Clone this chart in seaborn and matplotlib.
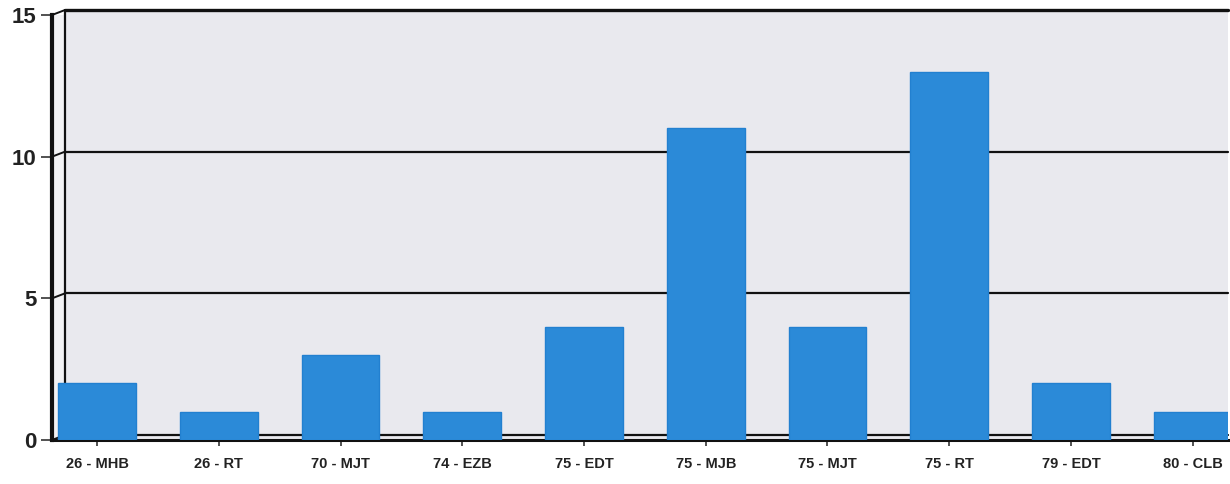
import matplotlib
matplotlib.use("Agg")
import matplotlib.pyplot as plt
import matplotlib.transforms as mtransforms
from matplotlib.patches import Rectangle
import seaborn as sns
import pandas as pd

categories = ["26 - MHB", "26 - RT", "70 - MJT", "74 - EZB", "75 - EDT",
              "75 - MJB", "75 - MJT", "75 - RT", "79 - EDT", "80 - CLB"]
counts = [2, 1, 3, 1, 4, 11, 4, 13, 2, 1]
y_ticks = [0, 5, 10, 15]

df = pd.DataFrame({"category": categories, "count": counts})

sns.set_theme(style="white")
plt.rcParams["font.family"] = ["Liberation Sans", "DejaVu Sans"]

bg = "#e9e9ee"
fig = plt.figure(figsize=(12.3, 4.84), dpi=100)
ax = fig.add_axes([52 / 1230, 1 - 440 / 484, (1228 - 52) / 1230, (440 - 15) / 484])
ax.set_facecolor(bg)

sns.barplot(data=df, x="category", y="count", color="#2b8ad8", saturation=1,
            width=0.64, ax=ax, zorder=3)
for p in ax.patches:
    p.set_edgecolor("#2280d0")
    p.set_linewidth(1.0)

ax.set_xlim(-0.37, 9.29)
ax.set_ylim(0, 15)
ax.set_yticks(y_ticks)
ax.set_yticklabels([str(t) for t in y_ticks], fontsize=16, color="#222222")
ax.set_xlabel("")
ax.set_ylabel("")
ax.tick_params(axis="x", labelsize=10.5, colors="#222222", length=4, width=1.2,
               bottom=True, pad=8, color="#333333")
ax.tick_params(axis="y", length=8, width=1.2, left=True, color="#333333", pad=3)
for lbl in ax.get_xticklabels() + ax.get_yticklabels():
    lbl.set_fontweight("bold")

ax.grid(False)

# Back wall: gridlines sit slightly up and right of the front axis
wall_dx = 13 / 1176
wall_dy = 5 / 425
dy_data = wall_dy * 15
ax.add_patch(Rectangle((wall_dx, 1.0), 1 - wall_dx, wall_dy, transform=ax.transAxes,
                       facecolor=bg, edgecolor="none", zorder=0.4, clip_on=False))
blend = mtransforms.blended_transform_factory(ax.transAxes, ax.transData)
for t in y_ticks:
    lw = 2.4 if t == y_ticks[-1] else 1.6
    ax.plot([wall_dx, 1.0], [t + dy_data, t + dy_data], transform=blend,
            color="#111111", lw=lw, zorder=1, clip_on=False)
    ax.plot([0, wall_dx], [t, t + dy_data], transform=blend,
            color="#111111", lw=1.4, zorder=1, clip_on=False)
ax.plot([wall_dx, wall_dx], [dy_data, 15 + dy_data], transform=blend,
        color="#111111", lw=1.6, zorder=1, clip_on=False)
ax.axvspan(-0.37, -0.37 + wall_dx * 9.66, color="#f2f2f4", zorder=0.5)

for side in ["left", "bottom"]:
    ax.spines[side].set_color("#111111")
ax.spines["top"].set_visible(False)
ax.spines["right"].set_visible(False)
ax.spines["left"].set_linewidth(3)
ax.spines["bottom"].set_linewidth(2.2)

fig.savefig("out.png", dpi=100, facecolor="white")
